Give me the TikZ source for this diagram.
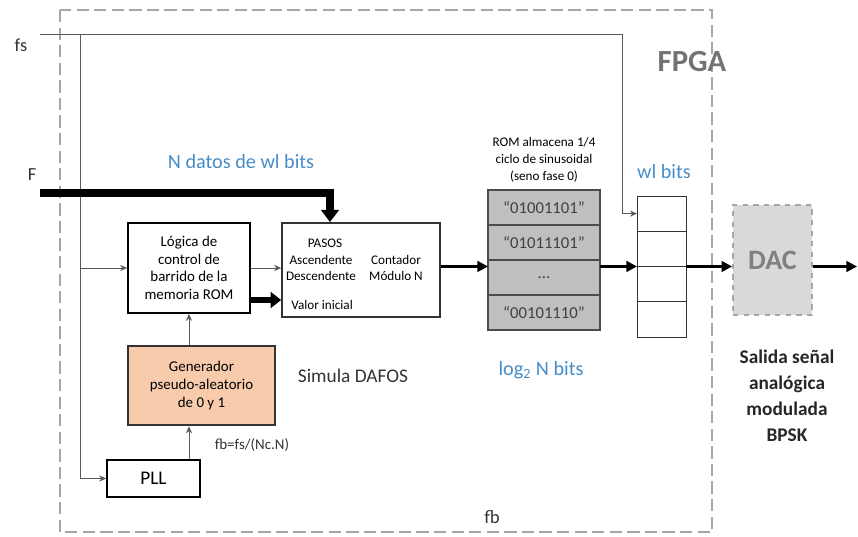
\documentclass[tikz,border=0pt]{standalone}
\usepackage{fontspec}
\setmainfont{Carlito}
\usetikzlibrary{arrows.meta}

\definecolor{peach}{RGB}{248,203,173}
\definecolor{romgray}{RGB}{191,191,191}
\definecolor{dacgray}{RGB}{217,217,217}
\definecolor{framegray}{RGB}{166,166,166}
\definecolor{labelblue}{RGB}{70,140,200}

\begin{document}
\begin{tikzpicture}[x=0.02cm,y=-0.02cm,>=Stealth,
  box/.style={draw,line width=1pt,align=center,inner sep=1pt,
    font=\fontsize{8.5}{10}\selectfont},
  small/.style={align=center,inner sep=0pt,font=\fontsize{7.5}{9.5}\selectfont},
  romcell/.style={draw=black!70,fill=romgray,line width=0.8pt,outer sep=0pt,
    minimum width=2.24cm,minimum height=0.7cm,
    font=\fontsize{9.5}{11}\selectfont,text=black!75},
  regcell/.style={draw=black!80,line width=0.5pt,outer sep=0pt,
    minimum width=0.98cm,minimum height=0.705cm},
  thin/.style={line width=0.5pt,draw=black!65,-{Stealth[length=4pt,width=3.5pt]}},
  main/.style={line width=1.5pt,-{Triangle[length=6pt,width=6pt]}},
  bus/.style={line width=4pt,-{Triangle[length=7pt,width=10pt]}},
  note/.style={font=\fontsize{11.5}{13}\selectfont,text=labelblue},
  lbl/.style={font=\fontsize{10.5}{12}\selectfont,text=black!80},
]
\useasboundingbox (0,0) rectangle (858,537);
% ---------- FPGA frame ----------
\draw[framegray,line width=1pt,dash pattern=on 7pt off 3pt] (60,10) rectangle (712,532);
\node[font=\bfseries\fontsize{17.5}{20}\selectfont,text=black!55] (fpga) at (692,62) {FPGA};
% ---------- blocks ----------
\node[box,minimum width=2.44cm,minimum height=1.8cm] (logica) at (189,268)
  {Lógica de\\control de\\barrido de la\\memoria ROM};
\node[box,draw=black!80,minimum width=3.16cm,minimum height=1.88cm] (pasos) at (361,270) {};
\node[small] (pasostit) at (325,243) {PASOS};
\node[small] (asc) at (321,268) {Ascendente\\Descendente};
\node[small] (cont) at (396,268) {Contador\\Módulo N};
\node[small,anchor=west] (vini) at (291,305) {Valor inicial};
\node[box,fill=peach,draw=black!80,line width=1.5pt,minimum width=2.94cm,minimum height=1.58cm]
  (gen) at (201.5,385.5) {Generador\\pseudo-aleatorio\\de 0 y 1};
\node[box,minimum width=1.86cm,minimum height=0.74cm,font=\fontsize{11}{13}\selectfont]
  (pll) at (153.5,478.5) {PLL};
% ROM cells
\node[romcell] (rom1) at (544,207.5) {``01001101''};
\node[romcell,anchor=north] (rom2) at (rom1.south) {``01011101''};
\node[romcell,anchor=north] (rom3) at (rom2.south) {...};
\node[romcell,anchor=north] (rom4) at (rom3.south) {``00101110''};
\node[small] (romlbl) at (544,160)
  {ROM almacena 1/4\\ciclo de sinusoidal\\(seno fase 0)};
% register
\node[regcell] (reg1) at (661.5,213.6) {};
\node[regcell,anchor=north] (reg2) at (reg1.south) {};
\node[regcell,anchor=north] (reg3) at (reg2.south) {};
\node[regcell,anchor=north] (reg4) at (reg3.south) {};
% DAC
\node[draw=framegray,dashed,fill=dacgray,line width=1pt,minimum width=1.58cm,minimum height=2.2cm,
  font=\bfseries\fontsize{16}{18}\selectfont,text=black!50] (dac) at (772.5,260) {DAC};
% ---------- labels ----------
\node[lbl] (fs) at (21,45) {fs};
\node[lbl] (F) at (32,175) {F};
\node[note] (ndatos) at (241,162) {N datos de wl bits};
\node[note] (wl) at (664,172) {wl bits};
\node[note] (logn) at (541,370) {log\textsubscript{2} N bits};
\node[font=\fontsize{11}{13}\selectfont,text=black!80] (simula) at (353,376) {Simula DAFOS};
\node[font=\fontsize{8.5}{10}\selectfont,text=black!80] (fbeq) at (252,445) {fb=fs/(Nc.N)};
\node[lbl] (fb) at (492,517) {fb};
\node[align=center,font=\bfseries\fontsize{11}{14.8}\selectfont,text=black!85] (salida) at (787,396)
  {Salida señal\\analógica\\modulada\\BPSK};
% ---------- connectors ----------
\coordinate (fsin) at (40,34);
\coordinate (fsl) at (80,34);
\coordinate (fsr) at (622,34);
\draw[thin] (fsin) -- (fsr) |- (reg1.west);
\draw[thin] (fsl) |- (pll.west);
\draw[thin] (fsl |- logica.west) -- (logica.west);
\coordinate (Fin) at (40,193);
\draw[bus] (Fin) -| ([xshift=-0.62cm]pasos.north);
\draw[thin] (logica.east) -- (logica.east -| pasos.west);
\coordinate (lg2) at ([yshift=-0.64cm]logica.east);
\draw[line width=3.5pt,-{Triangle[length=6pt,width=9pt]}] (lg2) -- (lg2 -| pasos.west);
\draw[thin] (gen.north -| logica.south) -- (logica.south);
\draw[thin] (pll.north -| logica.south) -- (gen.south -| logica.south);
\draw[main] (pasos.east |- reg2.south) -- (rom3.west |- reg2.south);
\draw[main] (rom3.east |- reg2.south) -- (reg2.south west);
\draw[main] (reg2.south east) -- (reg2.south east -| dac.west);
\coordinate (out) at (857,266.5);
\draw[main] (dac.east |- reg2.south) -- (out);
\end{tikzpicture}
\end{document}
